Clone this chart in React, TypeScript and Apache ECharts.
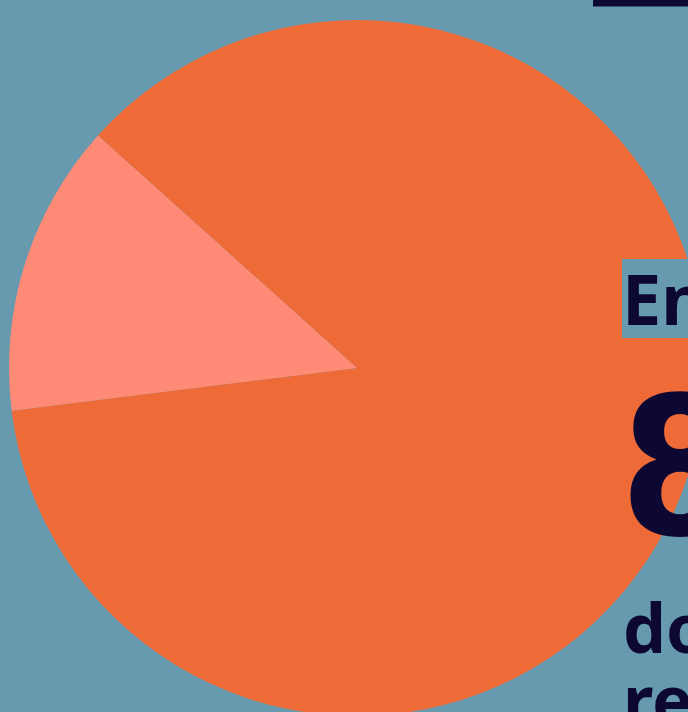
import React, { useEffect, useRef } from "react";
import * as echarts from "echarts";

const sliceNames = ["Principal", "Autre"];
const sliceValues = [86.4, 13.6];
const sliceColors = ["#EE6A36", "#FF8B77"];
const titleText = "En";
const bigNumber = "86%";
const descText = "do\nre";

const BG = "#6799AF";
const NAVY = "#0D0833";

export default function App() {
  const ref = useRef<HTMLDivElement>(null);
  useEffect(() => {
    if (!ref.current) return;
    const chart = echarts.init(ref.current, null, { renderer: "svg" });
    chart.setOption({
      animation: false,
      backgroundColor: BG,
      series: [
        {
          type: "pie",
          z: 2,
          center: [357, 368],
          radius: [0, 348],
          startAngle: 138.1,
          clockwise: true,
          label: { show: false },
          labelLine: { show: false },
          emphasis: { disabled: true },
          silent: true,
          itemStyle: { borderWidth: 0 },
          data: sliceNames.map((n, i) => ({
            name: n,
            value: sliceValues[i],
            itemStyle: { color: sliceColors[i] },
          })),
        },
      ],
      graphic: [
        {
          type: "rect",
          z: 0,
          shape: { x: 622, y: 580, width: 120, height: 200 },
          style: { fill: BG },
        },
        {
          type: "rect",
          z: 5,
          shape: { x: 622, y: 259, width: 120, height: 79 },
          style: { fill: BG },
        },
        {
          type: "rect",
          z: 5,
          shape: { x: 593, y: -10, width: 120, height: 16.5 },
          style: { fill: NAVY },
        },
        {
          type: "text",
          z: 6,
          x: 622,
          y: 298,
          style: {
            text: titleText,
            fill: NAVY,
            font: "bold 70px 'Noto Sans'",
            align: "left",
            verticalAlign: "middle",
          },
        },
        {
          type: "text",
          z: 6,
          x: 620,
          y: 467,
          style: {
            text: bigNumber,
            fill: NAVY,
            font: "bold 192px 'Liberation Sans Narrow', 'DejaVu Sans Condensed', sans-serif",
            lineHeight: 150,
            align: "left",
            verticalAlign: "middle",
          },
        },
        {
          type: "text",
          z: 6,
          x: 623,
          y: 590,
          style: {
            text: descText,
            fill: NAVY,
            font: "bold 68px 'Noto Sans'",
            lineHeight: 72,
            align: "left",
            verticalAlign: "top",
          },
        },
      ],
    });
    return () => chart.dispose();
  }, []);
  return (
    <div
      ref={ref}
      style={{ position: "fixed", left: 0, top: 0, width: 688, height: 712 }}
    />
  );
}
